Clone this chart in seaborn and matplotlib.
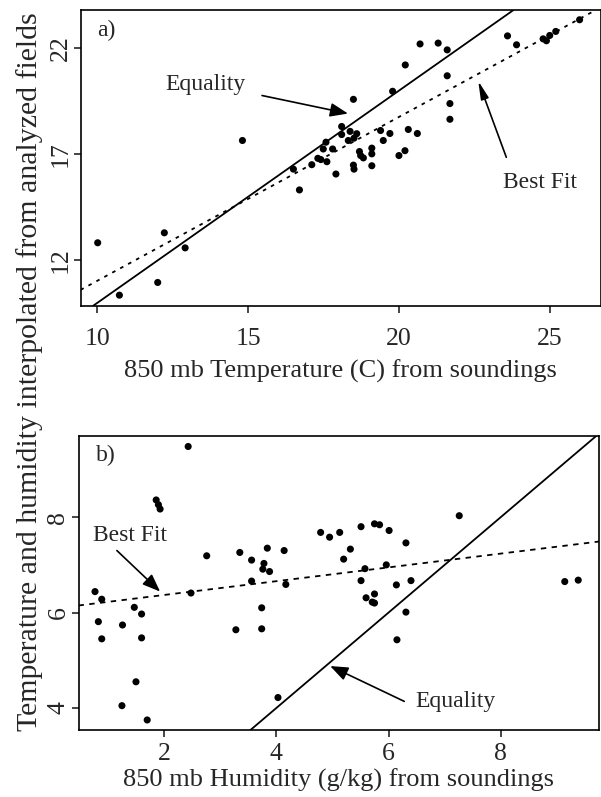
import matplotlib
matplotlib.use("Agg")
import matplotlib.pyplot as plt
import seaborn as sns
import pandas as pd

# ---- Panel a: 850 mb temperature (C) ----
temp_sounding = [10.01, 10.73, 12.00, 12.22, 12.91, 14.81, 16.50, 16.70, 17.11, 17.31,
                 17.41, 17.61, 17.58, 17.49, 17.80, 17.91, 18.49, 18.10, 18.10, 18.38,
                 18.32, 18.51, 18.60, 18.49, 18.51, 18.69, 18.73, 18.82, 19.10, 19.10,
                 19.10, 19.39, 19.48, 19.70, 19.79, 20.00, 20.20, 20.21, 20.31, 20.61,
                 20.70, 21.30, 21.60, 21.60, 21.69, 21.69, 23.60, 23.90, 24.78, 24.89,
                 25.00, 25.20, 25.99]
temp_analyzed = [12.83, 10.36, 10.96, 13.30, 12.59, 17.65, 16.30, 15.32, 16.51, 16.81,
                 16.75, 16.65, 17.57, 17.25, 17.25, 16.07, 19.59, 18.31, 17.93, 18.08,
                 17.65, 17.76, 17.97, 16.49, 16.30, 17.13, 16.94, 16.83, 17.29, 17.02,
                 16.46, 18.12, 17.65, 17.98, 19.97, 16.94, 17.17, 21.21, 18.17, 17.98,
                 22.20, 22.24, 21.92, 20.70, 19.39, 18.65, 22.58, 22.16, 22.44, 22.35,
                 22.60, 22.79, 23.34]
temp_fit_intercept = 3.32
temp_fit_slope = 0.772
temp_xticks = [10, 15, 20, 25]
temp_yticks = [12, 17, 22]

# ---- Panel b: 850 mb humidity (g/kg) ----
hum_sounding = [2.43, 1.86, 1.90, 1.93, 2.76, 3.35, 3.56, 3.84, 4.14, 3.78,
                3.76, 3.88, 3.56, 4.17, 2.48, 0.77, 0.89, 1.47, 1.60, 0.83,
                1.26, 0.89, 1.60, 3.74, 3.28, 3.74, 1.50, 1.25, 1.70, 4.03,
                4.79, 4.95, 5.13, 5.32, 5.20, 5.51, 5.75, 5.84, 6.01, 6.31,
                5.58, 5.96, 5.51, 6.14, 6.40, 5.60, 5.75, 5.71, 5.75, 6.31,
                6.15, 7.26, 9.14, 9.38]
hum_analyzed = [9.48, 8.36, 8.26, 8.17, 7.19, 7.26, 7.10, 7.35, 7.30, 7.03,
                6.91, 6.86, 6.66, 6.59, 6.41, 6.44, 6.28, 6.11, 5.97, 5.81,
                5.74, 5.45, 5.47, 6.10, 5.64, 5.66, 4.55, 4.05, 3.75, 4.22,
                7.68, 7.58, 7.68, 7.33, 7.12, 7.80, 7.86, 7.84, 7.72, 7.46,
                6.92, 7.00, 6.67, 6.58, 6.67, 6.31, 6.39, 6.22, 6.20, 6.01,
                5.43, 8.03, 6.65, 6.68]
hum_fit_intercept = 6.08
hum_fit_slope = 0.1445
hum_xticks = [2, 4, 6, 8]
hum_yticks = [4, 6, 8]

df_a = pd.DataFrame({"x": temp_sounding, "y": temp_analyzed})
df_b = pd.DataFrame({"x": hum_sounding, "y": hum_analyzed})

sns.set_theme(style="ticks")
plt.rcParams["font.family"] = ["Liberation Serif", "DejaVu Serif"]
plt.rcParams["axes.linewidth"] = 1.2
plt.rcParams["xtick.major.width"] = 1.2
plt.rcParams["ytick.major.width"] = 1.2
plt.rcParams["xtick.major.size"] = 5
plt.rcParams["ytick.major.size"] = 5

FS = 17
TICK_FS = 18.5
fig = plt.figure(figsize=(6.01, 7.97), dpi=100)
ax1 = fig.add_axes([80.5 / 601, 1 - 306 / 797, (601 - 80.5) / 601, (306 - 10) / 797])
ax2 = fig.add_axes([78.5 / 601, 1 - 730 / 797, (599 - 78.5) / 601, (730 - 436) / 797])

for ax, df, b, m, xt, yt, xl, yl in [
    (ax1, df_a, temp_fit_intercept, temp_fit_slope, temp_xticks, temp_yticks, (9.44, 26.7), (9.85, 23.8)),
    (ax2, df_b, hum_fit_intercept, hum_fit_slope, hum_xticks, hum_yticks, (0.476, 9.75), (3.54, 9.70)),
]:
    sns.scatterplot(data=df, x="x", y="y", ax=ax, color="black", s=26, edgecolor="none", zorder=3)
    ax.axline((0, 0), slope=1, color="black", lw=1.3)
    ax.axline((0, b), slope=m, color="black", lw=1.3,
              linestyle=(0, (2, 3)) if ax is ax1 else (0, (3, 3)))
    ax.set_xlim(*xl)
    ax.set_ylim(*yl)
    ax.set_xticks(xt)
    ax.set_yticks(yt)
    ax.tick_params(labelsize=TICK_FS, direction="out")
    ax.tick_params(axis="y", pad=1.5)
    for lab in ax.get_yticklabels():
        lab.set_rotation(90)
        lab.set_va("center")
    for s in ax.spines.values():
        s.set_visible(True)
        s.set_color("black")

ax1.tick_params(axis="x", pad=11)
ax2.tick_params(axis="x", pad=4)
ax1.set_xlabel("850 mb Temperature (C) from soundings", fontsize=19, labelpad=7)
ax2.set_xlabel("850 mb Humidity (g/kg) from soundings", fontsize=19, labelpad=3)
ax1.set_ylabel("")
ax2.set_ylabel("")

ax1.text(0.05, 0.93, "a)", transform=ax1.transAxes, fontsize=FS, ha="center", va="center")
ax2.text(0.053, 0.935, "b)", transform=ax2.transAxes, fontsize=FS, ha="center", va="center")

arrow_big = dict(arrowstyle="-|>,head_length=0.9,head_width=0.35", color="black", lw=1.2,
                 shrinkA=0, shrinkB=0)
arrow_thin = dict(arrowstyle="-|>,head_length=0.9,head_width=0.2", color="black", lw=1.2,
                  shrinkA=0, shrinkB=0)

ax1.annotate("", xy=(18.31, 18.92), xytext=(15.46, 19.77), arrowprops=arrow_big)
ax1.text(13.58, 20.29, "Equality", fontsize=FS, ha="center", va="center")
ax1.annotate("", xy=(22.63, 20.45), xytext=(23.56, 16.86), arrowprops=arrow_thin)
ax1.text(24.67, 15.69, "Best Fit", fontsize=FS, ha="center", va="center")

ax2.annotate("", xy=(1.93, 6.44), xytext=(1.16, 7.30), arrowprops=arrow_big)
ax2.text(1.39, 7.61, "Best Fit", fontsize=FS, ha="center", va="center")
ax2.annotate("", xy=(4.96, 4.88), xytext=(6.28, 4.14), arrowprops=arrow_big)
ax2.text(7.19, 4.13, "Equality", fontsize=FS, ha="center", va="center")

fig.text(30 / 601, 1 - 372 / 797, "Temperature and humidity interpolated from analyzed fields",
         rotation=90, ha="center", va="center", fontsize=21.5)

fig.savefig("out.png", dpi=100)
